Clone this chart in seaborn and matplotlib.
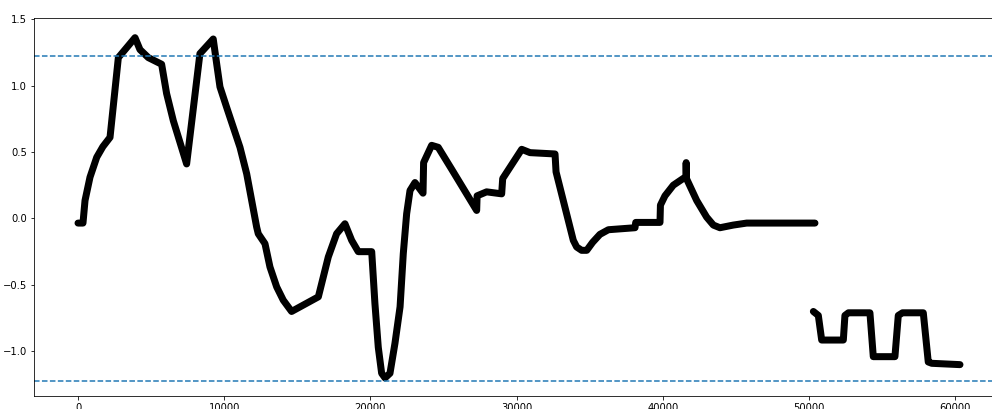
import numpy as np
import pandas as pd
import seaborn as sns
import matplotlib.pyplot as plt

# first stretch of the signal
x1 = [0, 340, 480, 820, 1280, 1700, 2190, 2760, 3900, 4240, 4810, 5720, 6060, 6520, 7430,
      8340, 9250, 9490, 9710, 10170, 11080, 11540, 12220, 12330, 12790, 13130, 13590, 14040,
      14610, 16440, 17120, 17690, 18260, 18720, 19170, 20090, 20310, 20540, 20770, 21000,
      21340, 21680, 22030, 22250, 22480, 22710, 23050, 23600, 23640, 24190, 24640, 25560,
      27270, 27300, 27950, 28980, 29050, 30350, 30920, 32630, 32700, 33880, 34110, 34450,
      34800, 35200, 35700, 36280, 38100, 38150, 39810, 39840, 40150, 40720, 41590, 41600,
      41620, 42320, 43000, 43460, 43910, 44820, 45740, 50410]
y1 = [-0.035, -0.035, 0.135, 0.31, 0.46, 0.54, 0.61, 1.21, 1.36, 1.27, 1.21, 1.16, 0.94, 0.735,
      0.41, 1.24, 1.35, 1.16, 0.99, 0.835, 0.535, 0.335, -0.065, -0.115, -0.19, -0.365, -0.515,
      -0.615, -0.70, -0.59, -0.29, -0.115, -0.04, -0.165, -0.25, -0.25, -0.64, -0.97, -1.165,
      -1.20, -1.165, -0.94, -0.665, -0.265, 0.035, 0.21, 0.27, 0.19, 0.42, 0.55, 0.535, 0.37,
      0.06, 0.17, 0.20, 0.185, 0.30, 0.52, 0.495, 0.485, 0.35, -0.165, -0.215, -0.24,
      -0.24, -0.18, -0.12, -0.085, -0.07, -0.03, -0.03, 0.10, 0.17, 0.25, 0.315, 0.42,
      0.30, 0.135, 0.01, -0.05, -0.07, -0.05, -0.035, -0.035]

# second stretch (after the gap)
x2 = [50300, 50640, 50870, 52350, 52460, 52700, 54170, 54400, 55880, 56110, 56400, 57820,
      58160, 58400, 60330]
y2 = [-0.70, -0.73, -0.915, -0.915, -0.73, -0.71, -0.71, -1.04, -1.04, -0.73, -0.71, -0.71,
      -1.08, -1.09, -1.10]

threshold = 1.224

fig = plt.figure(figsize=(992 / 72, 409 / 72), dpi=72)
ax = fig.add_axes([34 / 992, 1 - 396 / 409, 1 - 34 / 992, (396 - 18) / 409])

line_kws = dict(color="black", linewidth=7, estimator=None, sort=False,
                solid_capstyle="round", solid_joinstyle="round")
sns.lineplot(x=x1, y=y1, ax=ax, **line_kws)
sns.lineplot(x=x2, y=y2, ax=ax, **line_kws)

ax.axhline(threshold, linestyle="--")
ax.axhline(-threshold, linestyle="--")

ax.set_xlim(-3010, 62520)
ax.set_ylim(-1.336, 1.508)
ax.set_xticks([0, 10000, 20000, 30000, 40000, 50000, 60000])
ax.set_yticks([-1.0, -0.5, 0.0, 0.5, 1.0, 1.5])

fig.savefig("out.png", dpi=72)
